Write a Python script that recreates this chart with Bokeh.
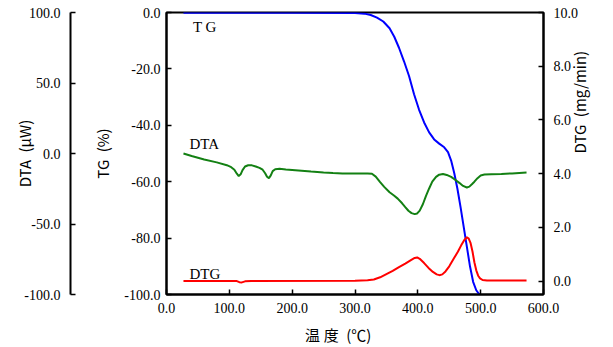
import math
from bokeh.plotting import figure
from bokeh.models import Range1d, LinearAxis, FixedTicker, PrintfTickFormatter, ColumnDataSource
from bokeh.core.properties import value
from bokeh.embed import file_html
from bokeh.resources import INLINE

# ---- data ----
tg_x = [27, 200, 300, 315, 325, 335, 345, 355, 362.5, 370, 378, 386, 394, 402, 410, 418, 426,
        434, 442, 448, 453, 458, 463, 468, 473, 478, 483, 488, 493, 498]
tg_y = [-0.1, -0.1, -0.2, -0.4, -0.9, -1.8, -3.2, -5.6, -8.6, -12.5, -17.3, -22.5, -29, -34.5,
        -39, -42.5, -45, -46.5, -47.8, -49.5, -52.5, -57, -62.5, -69, -76, -83, -90, -95.5,
        -98.5, -100]

dta_x = [27, 40, 60, 80, 96, 103, 108, 112, 115, 118, 121, 125, 130, 136, 142, 148, 153, 157,
         160, 163, 166, 169, 173, 180, 190, 210, 230, 250, 265, 280, 300, 320, 327, 333, 340,
         346.5, 355, 362, 368, 375, 380, 385, 390, 395, 399, 403, 408, 413, 418, 423, 429, 434,
         440, 446, 453, 460, 466, 472, 478, 482, 486, 490, 495, 500, 506, 517, 533, 550, 573]
dta_y = [0, -1.8, -4.3, -6.3, -8.3, -9.7, -11.5, -14.3, -16, -14.8, -11.8, -9.2, -8.3, -8.4,
         -9.2, -10.2, -11.5, -14, -16.5, -17.5, -15.5, -12.5, -11.2, -10.9, -11.3, -12, -12.8,
         -13.4, -13.8, -14.1, -14.2, -14.2, -14.4, -16.4, -20.3, -23.7, -27.5, -29.8, -32,
         -35.3, -38, -40.6, -42.3, -43, -42.5, -40.5, -36, -30, -24.8, -20, -16.6, -15, -14.5,
         -15.2, -16.6, -18.8, -20.8, -23, -24.1, -23.5, -21.8, -20, -17.5, -15.6, -14.9, -14.7,
         -14.5, -14.1, -13.5]

dtg_x = [27, 100, 112, 116, 120, 125, 135, 300, 320, 330, 340, 350, 360, 370, 380, 389, 395,
         399, 403, 410, 417, 424, 430, 434.3, 439, 444, 450, 457, 463.7, 469, 474, 478, 481,
         484, 487, 490, 493, 496, 499, 503, 510, 573]
dtg_y = [0, 0, 0, -0.04, -0.05, -0.01, 0, 0.01, 0.03, 0.06, 0.14, 0.26, 0.38, 0.52, 0.65, 0.78,
         0.86, 0.88, 0.83, 0.67, 0.49, 0.34, 0.25, 0.22, 0.25, 0.36, 0.55, 0.83, 1.09, 1.33,
         1.53, 1.63, 1.58, 1.41, 1.1, 0.7, 0.4, 0.2, 0.1, 0.04, 0.02, 0.02]

x_ticks = [0, 100, 200, 300, 400, 500, 600]
tg_ticks = [0, -20, -40, -60, -80, -100]
dta_ticks = [100, 50, 0, -50, -100]
dtg_ticks = [0, 2, 4, 6, 8, 10]

SERIF = "Liberation Serif"
SANS = "Noto Sans CJK JP"

p = figure(width=613, height=347, x_range=Range1d(0, 600), y_range=Range1d(-100, 0),
           output_backend="svg", toolbar_location=None,
           min_border_left=166, min_border_right=70, min_border_top=12, min_border_bottom=53)
p.extra_y_ranges = {"dta": Range1d(-100, 100), "dtg": Range1d(-0.5, 10)}
p.xgrid.visible = False
p.ygrid.visible = False
p.outline_line_color = "black"
p.outline_line_width = 2
p.background_fill_color = "white"
p.border_fill_color = "white"


def style(ax, ticks, label, standoff, lab_standoff):
    ax.ticker = FixedTicker(ticks=ticks)
    ax.formatter = PrintfTickFormatter(format="%.1f")
    ax.major_tick_in = 5
    ax.major_tick_out = 0
    ax.minor_tick_line_color = None
    ax.axis_line_width = 2
    ax.major_tick_line_width = 1.5
    ax.axis_line_color = "black"
    ax.major_tick_line_color = "black"
    ax.major_label_text_font = SERIF
    ax.major_label_text_font_size = "14px"
    ax.major_label_text_color = "black"
    ax.major_label_standoff = standoff
    ax.axis_label = label
    ax.axis_label_text_font = SANS
    ax.axis_label_text_font_size = "15px"
    ax.axis_label_text_font_style = "normal"
    ax.axis_label_text_color = "black"
    ax.axis_label_standoff = lab_standoff


style(p.xaxis[0], x_ticks, "温\u2005度\u2002(℃)\u2003\u2003\u2005", 8, 8)
style(p.yaxis[0], tg_ticks, "TG\u2002(%)", 6, 8)

spacer = LinearAxis(y_range_name="dta", ticker=FixedTicker(ticks=[]), axis_line_color=None,
                    major_tick_line_color=None, minor_tick_line_color=None,
                    major_tick_out=0, major_label_standoff=0,
                    axis_label="\u3000", axis_label_text_alpha=0,
                    axis_label_text_font_size="14px", axis_label_standoff=0)
p.add_layout(spacer, "left")

dta_axis = LinearAxis(y_range_name="dta")
style(dta_axis, dta_ticks, "DTA\u2002(μW)", 10, -14)
p.add_layout(dta_axis, "left")

dtg_axis = LinearAxis(y_range_name="dtg")
style(dtg_axis, dtg_ticks, "DTG\u2002(mg/min)", 10, -2)
dtg_axis.axis_label_orientation = math.pi / 2
p.add_layout(dtg_axis, "right")

p.line(tg_x, tg_y, line_color="#0000ff", line_width=2)
p.line(dta_x, dta_y, line_color="#138013", line_width=2, y_range_name="dta")
p.line(dtg_x, dtg_y, line_color="#ff0000", line_width=2, y_range_name="dtg")

lab = ColumnDataSource(dict(x=[42, 36.6, 36.6], y=[-5.3, -46.7, -92.6], t=["T G", "DTA", "DTG"]))
p.text(x="x", y="y", text="t", source=lab, text_font=value(SERIF), text_font_size="15px",
       text_color="black", text_align="left", text_baseline="alphabetic")

open("out.html", "w").write(file_html(p, INLINE))
